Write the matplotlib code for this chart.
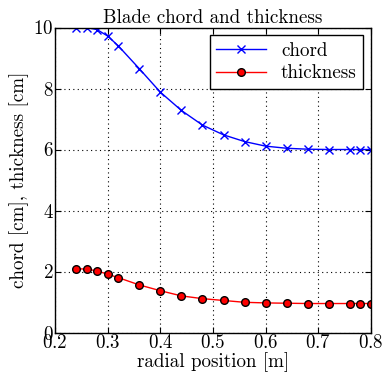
import matplotlib
matplotlib.use("Agg")
import matplotlib.pyplot as plt

r = [0.24, 0.26, 0.28, 0.30, 0.32, 0.36, 0.40, 0.44, 0.48, 0.52, 0.56, 0.60,
     0.64, 0.68, 0.72, 0.76, 0.78, 0.80]
chord = [10.0, 10.0, 9.93, 9.72, 9.40, 8.65, 7.88, 7.28, 6.80, 6.48, 6.26, 6.11,
         6.04, 6.01, 6.0, 6.0, 6.0, 6.0]
thickness = [2.09, 2.08, 2.02, 1.91, 1.80, 1.56, 1.37, 1.20, 1.11, 1.05, 0.99, 0.97,
             0.96, 0.95, 0.95, 0.95, 0.95, 0.95]

plt.rcParams['font.family'] = 'cmr10'
plt.rcParams['mathtext.fontset'] = 'cm'
plt.rcParams['axes.formatter.use_mathtext'] = True

FS = 13.7

fig = plt.figure(figsize=(3.83, 3.75), dpi=100)
ax = fig.add_axes([55/383, 1-332.5/375, (371-55)/383, (332.5-27.5)/375])

ax.plot(r, chord, color='b', marker='x', markersize=6, markeredgewidth=1.0,
        linewidth=1.0, label='chord')
ax.plot(r, thickness, color='r', marker='o', markersize=5.5, markerfacecolor='r',
        markeredgecolor='k', markeredgewidth=1.0, linewidth=1.0, label='thickness')

ax.set_xlim(0.2, 0.8)
ax.set_ylim(0, 10)
ax.set_xticks([0.2, 0.3, 0.4, 0.5, 0.6, 0.7, 0.8])
ax.set_yticks([0, 2, 4, 6, 8, 10])
ax.grid(True, color='k', linestyle=(0, (1, 3)), linewidth=0.8)
ax.tick_params(direction='in', top=True, right=True, length=4, labelsize=FS, pad=1)
for s in ax.spines.values():
    s.set_linewidth(1.0)

ax.set_title('Blade chord and thickness', fontsize=FS, pad=3)
ax.set_xlabel('radial position [m]', fontsize=FS, labelpad=0)
ax.set_ylabel('chord [cm], thickness [cm]', fontsize=FS, labelpad=3)

leg = ax.legend(loc='upper right', fontsize=FS, fancybox=False, shadow=False,
                framealpha=1, edgecolor='k', handlelength=2.6, borderpad=0.35,
                labelspacing=0.25, handletextpad=0.8, borderaxespad=0.4)
leg.get_frame().set_linewidth(1.0)

fig.savefig('out.png', dpi=100)
